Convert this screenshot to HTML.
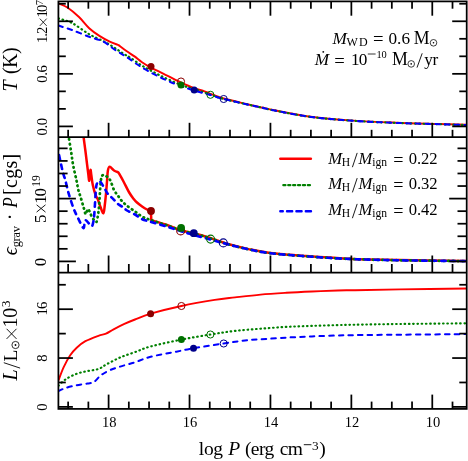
<!DOCTYPE html><html><head><meta charset="utf-8"><title>plot</title><style>html,body{margin:0;padding:0;background:#fff}svg{display:block;will-change:transform}text{font-family:"Liberation Serif",serif;fill:#000}</style></head><body>
<svg width="468" height="461" viewBox="0 0 468 461">
<rect width="468" height="461" fill="#fff"/>
<defs>
<clipPath id="c1"><rect x="58.40" y="1.40" width="408.30" height="135.70"/></clipPath>
<clipPath id="c2"><rect x="58.40" y="137.10" width="408.30" height="135.40"/></clipPath>
<clipPath id="c3"><rect x="58.40" y="272.50" width="408.30" height="136.40"/></clipPath>
</defs>
<g clip-path="url(#c1)" fill="none" stroke-linejoin="round">
<path d="M58.50,3.40 C60.05,4.12 64.38,5.43 67.80,7.70 C71.22,9.97 75.43,13.58 79.00,17.00 C82.57,20.42 85.80,25.05 89.20,28.20 C92.60,31.35 95.98,33.67 99.40,35.90 C102.82,38.13 106.50,40.07 109.70,41.60 C112.90,43.13 117.12,44.52 118.60,45.10 C119.97,46.13 124.15,49.42 126.80,51.30 C129.45,53.18 131.97,54.58 134.50,56.40 C137.03,58.22 139.32,60.37 142.00,62.20 C144.68,64.03 146.32,65.12 150.60,67.40 C154.88,69.68 162.57,73.35 167.70,75.90 C172.83,78.45 177.12,80.70 181.40,82.70 C185.68,84.70 189.55,86.47 193.40,87.90 C197.25,89.33 201.67,90.32 204.50,91.30 C207.33,92.28 207.20,92.60 210.40,93.80 C213.60,95.00 217.72,96.80 223.70,98.50 C229.68,100.20 239.68,102.45 246.30,104.00 C252.92,105.55 258.70,106.75 263.40,107.80 C268.10,108.85 266.62,108.82 274.50,110.30 C282.38,111.78 297.53,114.98 310.70,116.70 C323.87,118.42 339.25,119.60 353.50,120.60 C367.75,121.60 381.95,122.13 396.20,122.70 C410.45,123.27 427.20,123.65 439.00,124.00 C450.80,124.35 462.33,124.67 467.00,124.80" stroke="#ff0000" stroke-width="1.95"/>
<path d="M58.50,18.50 C60.75,19.25 66.88,20.38 72.00,23.00 C77.12,25.62 83.48,30.92 89.20,34.20 C94.92,37.48 101.47,40.03 106.30,42.70 C111.13,45.37 115.08,48.22 118.20,50.20 C121.32,52.18 123.00,53.37 125.00,54.60 C127.00,55.83 127.37,55.77 130.20,57.60 C133.03,59.43 137.17,62.70 142.00,65.60 C146.83,68.50 152.77,71.80 159.20,75.00 C165.63,78.20 174.63,82.42 180.60,84.80 C186.57,87.18 190.03,87.67 195.00,89.30 C199.97,90.93 205.62,92.98 210.40,94.60 C215.18,96.22 217.72,97.40 223.70,99.00 C229.68,100.60 239.68,102.70 246.30,104.20 C252.92,105.70 258.70,106.95 263.40,108.00 C268.10,109.05 266.62,109.02 274.50,110.50 C282.38,111.98 297.53,115.18 310.70,116.90 C323.87,118.62 339.25,119.80 353.50,120.80 C367.75,121.80 381.95,122.33 396.20,122.90 C410.45,123.47 427.20,123.85 439.00,124.20 C450.80,124.55 462.33,124.87 467.00,125.00" stroke="#008000" stroke-width="2.20" stroke-linecap="round" stroke-dasharray="0.60 3.65"/>
<path d="M58.50,25.60 C60.75,26.33 66.88,28.13 72.00,30.00 C77.12,31.87 84.05,34.90 89.20,36.80 C94.35,38.70 98.63,39.27 102.90,41.40 C107.17,43.53 110.82,46.97 114.80,49.60 C118.78,52.23 122.27,54.22 126.80,57.20 C131.33,60.18 136.60,64.23 142.00,67.50 C147.40,70.77 153.48,73.98 159.20,76.80 C164.92,79.62 170.47,82.12 176.30,84.40 C182.13,86.68 188.52,88.73 194.20,90.50 C199.88,92.27 205.48,93.58 210.40,95.00 C215.32,96.42 217.72,97.47 223.70,99.00 C229.68,100.53 239.68,102.70 246.30,104.20 C252.92,105.70 258.70,106.95 263.40,108.00 C268.10,109.05 266.62,109.02 274.50,110.50 C282.38,111.98 297.53,115.18 310.70,116.90 C323.87,118.62 339.25,119.80 353.50,120.80 C367.75,121.80 381.95,122.33 396.20,122.90 C410.45,123.47 427.20,123.85 439.00,124.20 C450.80,124.55 462.33,124.87 467.00,125.00" stroke="#0000ff" stroke-width="2.05" stroke-linecap="round" stroke-dasharray="4.50 5.15"/>
</g>
<circle cx="181.00" cy="81.50" r="3.55" fill="none" stroke="#8b0000" stroke-width="1.00"/>
<circle cx="210.40" cy="94.80" r="3.55" fill="none" stroke="#007000" stroke-width="1.00"/>
<circle cx="223.70" cy="99.00" r="3.55" fill="none" stroke="#00008b" stroke-width="1.00"/>
<circle cx="151.00" cy="66.50" r="3.50" fill="#8b0000"/>
<circle cx="181.00" cy="85.00" r="3.50" fill="#007000"/>
<circle cx="194.20" cy="90.00" r="3.50" fill="#00008b"/>
<g clip-path="url(#c2)" fill="none" stroke-linejoin="round">
<path d="M83.00,130.00 C83.10,131.17 83.22,133.67 83.60,137.00 C83.98,140.33 84.75,145.67 85.30,150.00 C85.85,154.33 86.40,159.00 86.90,163.00 C87.40,167.00 87.93,171.03 88.30,174.00 C88.67,176.97 88.87,180.47 89.10,180.80 C89.33,181.13 89.47,177.83 89.70,176.00 C89.93,174.17 90.23,169.97 90.50,169.80 C90.77,169.63 90.92,172.47 91.30,175.00 C91.68,177.53 92.05,181.55 92.80,185.00 C93.55,188.45 94.98,193.37 95.80,195.70 C96.62,198.03 96.92,197.12 97.70,199.00 C98.48,200.88 99.55,204.62 100.50,207.00 C101.45,209.38 102.68,213.63 103.40,213.30 C104.12,212.97 104.32,208.83 104.80,205.00 C105.28,201.17 105.92,194.47 106.30,190.30 C106.68,186.13 106.83,183.30 107.10,180.00 C107.37,176.70 107.47,172.72 107.90,170.50 C108.33,168.28 108.68,166.70 109.70,166.70 C110.72,166.70 112.57,169.57 114.00,170.50 C115.43,171.43 117.58,172.00 118.30,172.30 C119.17,173.83 121.68,178.13 123.50,181.50 C125.32,184.87 127.53,189.63 129.20,192.50 C130.87,195.37 132.20,197.03 133.50,198.70 C134.80,200.37 135.57,201.22 137.00,202.50 C138.43,203.78 140.43,205.23 142.10,206.40 C143.77,207.57 145.53,208.70 147.00,209.50 C148.47,210.30 150.25,210.92 150.90,211.20 C150.97,212.70 151.23,218.70 151.30,220.20 C154.03,221.03 162.68,223.52 167.70,225.20 C172.72,226.88 175.27,228.45 181.40,230.30 C187.53,232.15 196.73,234.02 204.50,236.30 C212.27,238.58 220.67,241.87 228.00,244.00 C235.33,246.13 241.45,247.60 248.50,249.10 C255.55,250.60 260.88,251.85 270.30,253.00 C279.72,254.15 292.05,255.05 305.00,256.00 C317.95,256.95 332.28,258.02 348.00,258.70 C363.72,259.38 379.47,259.73 399.30,260.10 C419.13,260.47 455.72,260.77 467.00,260.90" stroke="#ff0000" stroke-width="2.50"/>
<path d="M67.50,130.00 C67.70,131.17 68.12,133.50 68.70,137.00 C69.28,140.50 70.25,146.25 71.00,151.00 C71.75,155.75 72.30,160.67 73.20,165.50 C74.10,170.33 75.53,175.87 76.40,180.00 C77.27,184.13 77.70,187.45 78.40,190.30 C79.10,193.15 79.75,194.32 80.60,197.10 C81.45,199.88 82.63,204.15 83.50,207.00 C84.37,209.85 85.08,213.87 85.80,214.20 C86.52,214.53 87.13,209.37 87.80,209.00 C88.47,208.63 89.13,210.70 89.80,212.00 C90.47,213.30 91.02,215.38 91.80,216.80 C92.58,218.22 93.72,219.65 94.50,220.50 C95.28,221.35 95.92,222.82 96.50,221.90 C97.08,220.98 97.57,217.72 98.00,215.00 C98.43,212.28 98.72,210.30 99.10,205.60 C99.48,200.90 99.93,191.40 100.30,186.80 C100.67,182.20 100.90,179.93 101.30,178.00 C101.70,176.07 102.08,175.62 102.70,175.20 C103.32,174.78 104.12,175.12 105.00,175.50 C105.88,175.88 107.07,176.58 108.00,177.50 C108.93,178.42 109.60,178.92 110.60,181.00 C111.60,183.08 112.73,187.50 114.00,190.00 C115.27,192.50 116.90,194.18 118.20,196.00 C119.50,197.82 120.37,199.30 121.80,200.90 C123.23,202.50 124.60,203.83 126.80,205.60 C129.00,207.37 132.45,209.67 135.00,211.50 C137.55,213.33 139.50,215.18 142.10,216.60 C144.70,218.02 146.33,218.50 150.60,220.00 C154.87,221.50 162.63,223.88 167.70,225.60 C172.77,227.32 174.87,228.48 181.00,230.30 C187.13,232.12 196.67,234.18 204.50,236.50 C212.33,238.82 220.67,242.07 228.00,244.20 C235.33,246.33 241.45,247.80 248.50,249.30 C255.55,250.80 260.88,252.05 270.30,253.20 C279.72,254.35 292.05,255.25 305.00,256.20 C317.95,257.15 332.28,258.22 348.00,258.90 C363.72,259.58 379.47,259.93 399.30,260.30 C419.13,260.67 455.72,260.97 467.00,261.10" stroke="#008000" stroke-width="2.75" stroke-linecap="round" stroke-dasharray="0.60 4.10"/>
<path d="M57.00,146.00 C57.25,147.08 57.53,148.17 58.50,152.50 C59.47,156.83 61.67,167.42 62.80,172.00 C63.93,176.58 64.32,176.38 65.30,180.00 C66.28,183.62 67.28,188.87 68.70,193.70 C70.12,198.53 72.25,204.95 73.80,209.00 C75.35,213.05 76.43,214.85 78.00,218.00 C79.57,221.15 82.12,226.90 83.20,227.90 C84.28,228.90 84.07,225.28 84.50,224.00 C84.93,222.72 85.13,220.37 85.80,220.20 C86.47,220.03 87.50,222.00 88.50,223.00 C89.50,224.00 91.00,226.37 91.80,226.20 C92.60,226.03 92.88,224.00 93.30,222.00 C93.72,220.00 93.85,219.78 94.30,214.20 C94.75,208.62 95.52,193.70 96.00,188.50 C96.48,183.30 96.77,184.25 97.20,183.00 C97.63,181.75 97.97,181.08 98.60,181.00 C99.23,180.92 100.00,181.25 101.00,182.50 C102.00,183.75 103.43,186.58 104.60,188.50 C105.77,190.42 106.58,192.28 108.00,194.00 C109.42,195.72 111.38,197.08 113.10,198.80 C114.82,200.52 116.58,202.87 118.30,204.30 C120.02,205.73 121.95,206.37 123.40,207.40 C124.85,208.43 125.07,209.32 127.00,210.50 C128.93,211.68 132.48,213.05 135.00,214.50 C137.52,215.95 139.50,217.98 142.10,219.20 C144.70,220.42 146.33,220.52 150.60,221.80 C154.87,223.08 162.63,225.33 167.70,226.90 C172.77,228.47 176.65,229.85 181.00,231.20 C185.35,232.55 188.87,233.60 193.80,235.00 C198.73,236.40 205.68,238.25 210.60,239.60 C215.52,240.95 216.98,241.48 223.30,243.10 C229.62,244.72 240.67,247.62 248.50,249.30 C256.33,250.98 260.88,252.05 270.30,253.20 C279.72,254.35 292.05,255.25 305.00,256.20 C317.95,257.15 332.28,258.22 348.00,258.90 C363.72,259.58 379.47,259.93 399.30,260.30 C419.13,260.67 455.72,260.97 467.00,261.10" stroke="#0000ff" stroke-width="2.60" stroke-linecap="round" stroke-dasharray="4.40 5.10"/>
</g>
<circle cx="180.70" cy="230.90" r="3.98" fill="none" stroke="#8b0000" stroke-width="1.12"/>
<circle cx="210.60" cy="239.10" r="3.98" fill="none" stroke="#007000" stroke-width="1.12"/>
<circle cx="223.30" cy="242.90" r="3.98" fill="none" stroke="#00008b" stroke-width="1.12"/>
<circle cx="151.00" cy="211.00" r="3.92" fill="#8b0000"/>
<circle cx="181.10" cy="227.90" r="3.92" fill="#007000"/>
<circle cx="193.80" cy="233.20" r="3.92" fill="#00008b"/>
<g clip-path="url(#c3)" fill="none" stroke-linejoin="round">
<path d="M58.50,380.30 C59.37,378.12 61.75,371.37 63.70,367.20 C65.65,363.03 68.03,358.55 70.20,355.30 C72.37,352.05 74.17,350.05 76.70,347.70 C79.23,345.35 81.78,343.18 85.40,341.20 C89.02,339.22 94.97,337.07 98.40,335.80 C101.83,334.53 103.47,334.68 106.00,333.60 C108.53,332.52 110.53,330.92 113.60,329.30 C116.67,327.68 120.83,325.53 124.40,323.90 C127.97,322.27 130.63,321.20 135.00,319.50 C139.37,317.80 142.87,315.95 150.60,313.70 C158.33,311.45 170.72,308.30 181.40,306.00 C192.08,303.70 205.77,301.33 214.70,299.90 C223.63,298.47 227.35,298.28 235.00,297.40 C242.65,296.52 252.05,295.37 260.60,294.60 C269.15,293.83 277.75,293.32 286.30,292.80 C294.85,292.28 303.35,291.88 311.90,291.50 C320.45,291.12 330.42,290.72 337.60,290.50 C344.78,290.28 344.60,290.38 355.00,290.20 C365.40,290.02 381.33,289.68 400.00,289.40 C418.67,289.12 455.83,288.65 467.00,288.50" stroke="#ff0000" stroke-width="1.90"/>
<path d="M58.50,385.70 C59.72,384.62 62.77,381.18 65.80,379.20 C68.83,377.22 73.08,375.15 76.70,373.80 C80.32,372.45 83.88,371.90 87.50,371.10 C91.12,370.30 95.13,370.18 98.40,369.00 C101.67,367.82 103.48,365.92 107.10,364.00 C110.72,362.08 115.45,359.48 120.10,357.50 C124.75,355.52 129.92,353.93 135.00,352.10 C140.08,350.27 142.87,348.58 150.60,346.50 C158.33,344.42 171.43,341.60 181.40,339.60 C191.37,337.60 201.47,335.95 210.40,334.50 C219.33,333.05 226.63,331.87 235.00,330.90 C243.37,329.93 252.05,329.37 260.60,328.70 C269.15,328.03 277.75,327.37 286.30,326.90 C294.85,326.43 303.35,326.20 311.90,325.90 C320.45,325.60 330.42,325.30 337.60,325.10 C344.78,324.90 344.60,324.88 355.00,324.70 C365.40,324.52 381.33,324.23 400.00,324.00 C418.67,323.77 455.83,323.42 467.00,323.30" stroke="#008000" stroke-width="2.15" stroke-linecap="round" stroke-dasharray="0.60 3.65"/>
<path d="M58.50,391.10 C59.72,390.57 62.77,388.88 65.80,387.90 C68.83,386.92 73.08,385.93 76.70,385.20 C80.32,384.47 84.62,384.03 87.50,383.50 C90.38,382.97 91.82,383.33 94.00,382.00 C96.18,380.67 98.07,377.42 100.60,375.50 C103.13,373.58 105.95,371.98 109.20,370.50 C112.45,369.02 115.80,367.97 120.10,366.60 C124.40,365.23 129.92,363.93 135.00,362.30 C140.08,360.67 143.72,358.57 150.60,356.80 C157.48,355.03 169.15,353.12 176.30,351.70 C183.45,350.28 185.60,349.67 193.50,348.30 C201.40,346.93 215.12,344.82 223.70,343.50 C232.28,342.18 238.85,341.10 245.00,340.40 C251.15,339.70 253.72,339.77 260.60,339.30 C267.48,338.83 277.75,338.08 286.30,337.60 C294.85,337.12 303.35,336.75 311.90,336.40 C320.45,336.05 330.42,335.72 337.60,335.50 C344.78,335.28 344.60,335.23 355.00,335.10 C365.40,334.97 381.33,334.87 400.00,334.70 C418.67,334.53 455.83,334.20 467.00,334.10" stroke="#0000ff" stroke-width="2.00" stroke-linecap="round" stroke-dasharray="4.50 5.15"/>
</g>
<circle cx="181.40" cy="306.00" r="3.55" fill="none" stroke="#8b0000" stroke-width="1.00"/>
<circle cx="210.40" cy="334.50" r="3.55" fill="none" stroke="#007000" stroke-width="1.00"/>
<circle cx="223.70" cy="343.50" r="3.55" fill="none" stroke="#00008b" stroke-width="1.00"/>
<circle cx="150.60" cy="313.70" r="3.50" fill="#8b0000"/>
<circle cx="181.40" cy="339.60" r="3.50" fill="#007000"/>
<circle cx="193.50" cy="348.30" r="3.50" fill="#00008b"/>
<g stroke="#000" stroke-width="1.75" fill="none">
<path d="M68.14,1.40 V8.70"/>
<path d="M88.37,1.40 V8.70"/>
<path d="M108.60,1.40 V15.70"/>
<path d="M128.83,1.40 V8.70"/>
<path d="M149.06,1.40 V8.70"/>
<path d="M169.29,1.40 V8.70"/>
<path d="M189.52,1.40 V15.70"/>
<path d="M209.75,1.40 V8.70"/>
<path d="M229.98,1.40 V8.70"/>
<path d="M250.21,1.40 V8.70"/>
<path d="M270.44,1.40 V15.70"/>
<path d="M290.67,1.40 V8.70"/>
<path d="M310.90,1.40 V8.70"/>
<path d="M331.13,1.40 V8.70"/>
<path d="M351.36,1.40 V15.70"/>
<path d="M371.59,1.40 V8.70"/>
<path d="M391.82,1.40 V8.70"/>
<path d="M412.05,1.40 V8.70"/>
<path d="M432.28,1.40 V15.70"/>
<path d="M452.51,1.40 V8.70"/>
<path d="M68.14,137.10 V129.80"/>
<path d="M88.37,137.10 V129.80"/>
<path d="M108.60,137.10 V122.80"/>
<path d="M128.83,137.10 V129.80"/>
<path d="M149.06,137.10 V129.80"/>
<path d="M169.29,137.10 V129.80"/>
<path d="M189.52,137.10 V122.80"/>
<path d="M209.75,137.10 V129.80"/>
<path d="M229.98,137.10 V129.80"/>
<path d="M250.21,137.10 V129.80"/>
<path d="M270.44,137.10 V122.80"/>
<path d="M290.67,137.10 V129.80"/>
<path d="M310.90,137.10 V129.80"/>
<path d="M331.13,137.10 V129.80"/>
<path d="M351.36,137.10 V122.80"/>
<path d="M371.59,137.10 V129.80"/>
<path d="M391.82,137.10 V129.80"/>
<path d="M412.05,137.10 V129.80"/>
<path d="M432.28,137.10 V122.80"/>
<path d="M452.51,137.10 V129.80"/>
<path d="M68.14,272.50 V264.00"/>
<path d="M88.37,272.50 V264.00"/>
<path d="M108.60,272.50 V255.50"/>
<path d="M128.83,272.50 V264.00"/>
<path d="M149.06,272.50 V264.00"/>
<path d="M169.29,272.50 V264.00"/>
<path d="M189.52,272.50 V255.50"/>
<path d="M209.75,272.50 V264.00"/>
<path d="M229.98,272.50 V264.00"/>
<path d="M250.21,272.50 V264.00"/>
<path d="M270.44,272.50 V255.50"/>
<path d="M290.67,272.50 V264.00"/>
<path d="M310.90,272.50 V264.00"/>
<path d="M331.13,272.50 V264.00"/>
<path d="M351.36,272.50 V255.50"/>
<path d="M371.59,272.50 V264.00"/>
<path d="M391.82,272.50 V264.00"/>
<path d="M412.05,272.50 V264.00"/>
<path d="M432.28,272.50 V255.50"/>
<path d="M452.51,272.50 V264.00"/>
<path d="M68.14,408.90 V401.60"/>
<path d="M88.37,408.90 V401.60"/>
<path d="M108.60,408.90 V394.60"/>
<path d="M128.83,408.90 V401.60"/>
<path d="M149.06,408.90 V401.60"/>
<path d="M169.29,408.90 V401.60"/>
<path d="M189.52,408.90 V394.60"/>
<path d="M209.75,408.90 V401.60"/>
<path d="M229.98,408.90 V401.60"/>
<path d="M250.21,408.90 V401.60"/>
<path d="M270.44,408.90 V394.60"/>
<path d="M290.67,408.90 V401.60"/>
<path d="M310.90,408.90 V401.60"/>
<path d="M331.13,408.90 V401.60"/>
<path d="M351.36,408.90 V394.60"/>
<path d="M371.59,408.90 V401.60"/>
<path d="M391.82,408.90 V401.60"/>
<path d="M412.05,408.90 V401.60"/>
<path d="M432.28,408.90 V394.60"/>
<path d="M452.51,408.90 V401.60"/>
<path d="M58.40,126.40 H72.90"/>
<path d="M466.70,126.40 H452.20"/>
<path d="M58.40,108.88 H65.80"/>
<path d="M466.70,108.88 H459.30"/>
<path d="M58.40,91.36 H65.80"/>
<path d="M466.70,91.36 H459.30"/>
<path d="M58.40,73.84 H72.90"/>
<path d="M466.70,73.84 H452.20"/>
<path d="M58.40,56.32 H65.80"/>
<path d="M466.70,56.32 H459.30"/>
<path d="M58.40,38.80 H65.80"/>
<path d="M466.70,38.80 H459.30"/>
<path d="M58.40,21.28 H72.90"/>
<path d="M466.70,21.28 H452.20"/>
<path d="M58.40,3.76 H65.80"/>
<path d="M466.70,3.76 H459.30"/>
<path d="M58.40,261.40 H75.90"/>
<path d="M466.70,261.40 H449.20"/>
<path d="M58.40,248.84 H67.60"/>
<path d="M466.70,248.84 H457.50"/>
<path d="M58.40,236.28 H67.60"/>
<path d="M466.70,236.28 H457.50"/>
<path d="M58.40,223.72 H67.60"/>
<path d="M466.70,223.72 H457.50"/>
<path d="M58.40,211.16 H67.60"/>
<path d="M466.70,211.16 H457.50"/>
<path d="M58.40,198.60 H75.90"/>
<path d="M466.70,198.60 H449.20"/>
<path d="M58.40,186.04 H67.60"/>
<path d="M466.70,186.04 H457.50"/>
<path d="M58.40,173.48 H67.60"/>
<path d="M466.70,173.48 H457.50"/>
<path d="M58.40,160.92 H67.60"/>
<path d="M466.70,160.92 H457.50"/>
<path d="M58.40,148.36 H67.60"/>
<path d="M466.70,148.36 H457.50"/>
<path d="M58.40,406.90 H72.90"/>
<path d="M466.70,406.90 H452.20"/>
<path d="M58.40,382.47 H65.80"/>
<path d="M466.70,382.47 H459.30"/>
<path d="M58.40,358.05 H72.90"/>
<path d="M466.70,358.05 H452.20"/>
<path d="M58.40,333.62 H65.80"/>
<path d="M466.70,333.62 H459.30"/>
<path d="M58.40,309.20 H72.90"/>
<path d="M466.70,309.20 H452.20"/>
<path d="M58.40,284.77 H65.80"/>
<path d="M466.70,284.77 H459.30"/>
</g>
<g stroke="#000" stroke-width="1.75" fill="none">
<rect x="58.40" y="1.40" width="408.30" height="407.50"/>
<path d="M58.40,137.10 H466.70 M58.40,272.50 H466.70"/>
</g>
<text x="109.20" y="426.7" font-size="14.5" text-anchor="middle">18</text>
<text x="190.12" y="426.7" font-size="14.5" text-anchor="middle">16</text>
<text x="271.04" y="426.7" font-size="14.5" text-anchor="middle">14</text>
<text x="351.96" y="426.7" font-size="14.5" text-anchor="middle">12</text>
<text x="432.88" y="426.7" font-size="14.5" text-anchor="middle">10</text>
<text x="198.81" y="455.30" font-size="19.50" letter-spacing="-0.328">log</text>
<text x="228.30" y="455.30" font-size="19.50" font-style="italic">P</text>
<text x="244.94" y="455.30" font-size="19.50" letter-spacing="-0.588">(erg</text>
<text x="279.86" y="455.30" font-size="19.50" letter-spacing="-0.775">cm</text>
<path d="M303.80,444.70 L311.40,444.70" stroke="#000" stroke-width="0.90" fill="none"/>
<text x="311.96" y="449.90" font-size="13.30">3</text>
<text x="319.17" y="455.30" font-size="19.50">)</text>
<g transform="translate(47.00,41.80) rotate(-90)"><text x="-1.29" y="0.00" font-size="14.70" letter-spacing="-0.986">1.2</text><path d="M15.90,-0.30 L23.20,-7.20" stroke="#000" stroke-width="0.80" fill="none"/><path d="M15.90,-7.20 L23.20,-0.30" stroke="#000" stroke-width="0.80" fill="none"/><text x="24.21" y="0.00" font-size="14.70" letter-spacing="-1.848">10</text><text x="36.61" y="-4.20" font-size="10.50">7</text></g>
<g transform="translate(47.00,82.20) rotate(-90)"><text x="-0.56" y="0.00" font-size="14.70" letter-spacing="-0.389">0.6</text></g>
<g transform="translate(47.00,135.00) rotate(-90)"><text x="-0.56" y="0.00" font-size="14.70" letter-spacing="-0.328">0.0</text></g>
<g transform="translate(46.00,222.00) rotate(-90)"><text x="-0.99" y="0.00" font-size="17.00">5</text><path d="M9.90,-0.50 L17.20,-9.40" stroke="#000" stroke-width="0.90" fill="none"/><path d="M9.90,-9.40 L17.20,-0.50" stroke="#000" stroke-width="0.90" fill="none"/><text x="18.31" y="0.00" font-size="17.00" letter-spacing="-1.258">10</text><text x="35.28" y="-6.30" font-size="11.60">19</text></g>
<g transform="translate(46.00,265.70) rotate(-90)"><text x="-0.65" y="0.00" font-size="17.00">0</text></g>
<g transform="translate(47.00,314.30) rotate(-90)"><text x="-1.29" y="0.00" font-size="14.70" letter-spacing="-0.770">16</text></g>
<g transform="translate(47.00,361.30) rotate(-90)"><text x="-0.56" y="0.00" font-size="14.70">8</text></g>
<g transform="translate(47.00,410.20) rotate(-90)"><text x="-0.56" y="0.00" font-size="14.70">0</text></g>
<g transform="translate(16.90,90.10) rotate(-90)"><text x="-1.31" y="0.00" font-size="20.00" font-style="italic">T</text><text x="16.02" y="0.00" font-size="20.00" letter-spacing="-0.453">(K)</text></g>
<g transform="translate(16.90,254.70) rotate(-90)"><text x="-0.60" y="0.00" font-size="20.00" font-style="italic">ϵ</text><text x="7.37" y="2.70" font-size="12.40" letter-spacing="-0.233">grav</text><text x="34.45" y="0.00" font-size="20.00">·</text><g transform="translate(46.80,0.00) scale(0.860,1)"><text x="0.11" y="0.00" font-size="20.00" font-style="italic">P</text></g><text x="59.62" y="0.00" font-size="20.00" letter-spacing="0.347">[cgs]</text></g>
<g transform="translate(16.80,380.60) rotate(-90)"><text x="0.23" y="0.00" font-size="20.00" font-style="italic">L</text><path d="M12.50,3.30 L17.90,-13.00" stroke="#000" stroke-width="0.90" fill="none"/><text x="19.04" y="0.00" font-size="19.50">L</text><circle cx="35.60" cy="-1.30" r="3.60" fill="none" stroke="#000" stroke-width="0.80"/><circle cx="35.60" cy="-1.30" r="0.90" fill="#000"/><path d="M41.70,-0.30 L51.80,-10.20" stroke="#000" stroke-width="0.90" fill="none"/><path d="M41.70,-10.20 L51.80,-0.30" stroke="#000" stroke-width="0.90" fill="none"/><text x="53.04" y="0.00" font-size="20.00" letter-spacing="-0.180">10</text><text x="73.25" y="-7.30" font-size="13.50">3</text></g>
<text x="332.60" y="43.60" font-size="17.20" font-style="italic">M</text>
<text x="346.39" y="45.50" font-size="12.00" letter-spacing="1.400">WD</text>
<text x="372.97" y="45.40" font-size="18.70">=</text>
<text x="388.44" y="43.60" font-size="17.20" letter-spacing="0.084">0.6</text>
<text x="413.69" y="43.60" font-size="17.80">M</text>
<circle cx="433.50" cy="42.80" r="3.30" fill="none" stroke="#000" stroke-width="0.75"/><circle cx="433.50" cy="42.80" r="0.82" fill="#000"/>
<text x="314.70" y="64.70" font-size="17.20" font-style="italic">Ṁ</text>
<text x="334.17" y="66.50" font-size="18.70">=</text>
<text x="351.09" y="64.70" font-size="17.20" letter-spacing="-1.033">10</text>
<path d="M367.80,54.00 L375.60,54.00" stroke="#000" stroke-width="0.80" fill="none"/>
<text x="376.39" y="57.70" font-size="10.40">10</text>
<text x="391.89" y="64.70" font-size="17.80">M</text>
<circle cx="411.20" cy="63.90" r="3.30" fill="none" stroke="#000" stroke-width="0.75"/><circle cx="411.20" cy="63.90" r="0.82" fill="#000"/>
<path d="M417.00,67.60 L422.20,53.30" stroke="#000" stroke-width="0.90" fill="none"/>
<text x="424.29" y="64.70" font-size="17.20" letter-spacing="-0.267">yr</text>
<g fill="none" stroke-linecap="round" stroke-width="2.4"><path d="M280.3,158.7 H310.9" stroke="#ff0000"/><path d="M283.4,185.1 H310.2" stroke="#008000" stroke-dasharray="2.0 2.9"/><path d="M280.3,211.2 H311" stroke="#0000ff" stroke-dasharray="5.2 4.2" stroke-dashoffset="2.7"/></g>
<text x="328.19" y="164.20" font-size="16.60" font-style="italic">M</text>
<text x="341.67" y="166.10" font-size="11.60">H</text>
<path d="M352.40,167.20 L357.20,152.90" stroke="#000" stroke-width="0.90" fill="none"/>
<text x="358.39" y="164.20" font-size="16.60" font-style="italic">M</text>
<text x="372.36" y="166.10" font-size="11.60" letter-spacing="-0.102">ign</text>
<text x="393.30" y="166.00" font-size="18.10">=</text>
<text x="408.87" y="164.20" font-size="16.60" letter-spacing="-0.101">0.22</text>
<text x="328.19" y="189.40" font-size="16.60" font-style="italic">M</text>
<text x="341.67" y="191.30" font-size="11.60">H</text>
<path d="M352.40,192.40 L357.20,178.10" stroke="#000" stroke-width="0.90" fill="none"/>
<text x="358.39" y="189.40" font-size="16.60" font-style="italic">M</text>
<text x="372.36" y="191.30" font-size="11.60" letter-spacing="-0.102">ign</text>
<text x="393.30" y="191.20" font-size="18.10">=</text>
<text x="408.87" y="189.40" font-size="16.60" letter-spacing="-0.101">0.32</text>
<text x="328.19" y="215.20" font-size="16.60" font-style="italic">M</text>
<text x="341.67" y="217.10" font-size="11.60">H</text>
<path d="M352.40,218.20 L357.20,203.90" stroke="#000" stroke-width="0.90" fill="none"/>
<text x="358.39" y="215.20" font-size="16.60" font-style="italic">M</text>
<text x="372.36" y="217.10" font-size="11.60" letter-spacing="-0.102">ign</text>
<text x="393.30" y="217.00" font-size="18.10">=</text>
<text x="408.87" y="215.20" font-size="16.60" letter-spacing="-0.101">0.42</text>
</svg></body></html>
